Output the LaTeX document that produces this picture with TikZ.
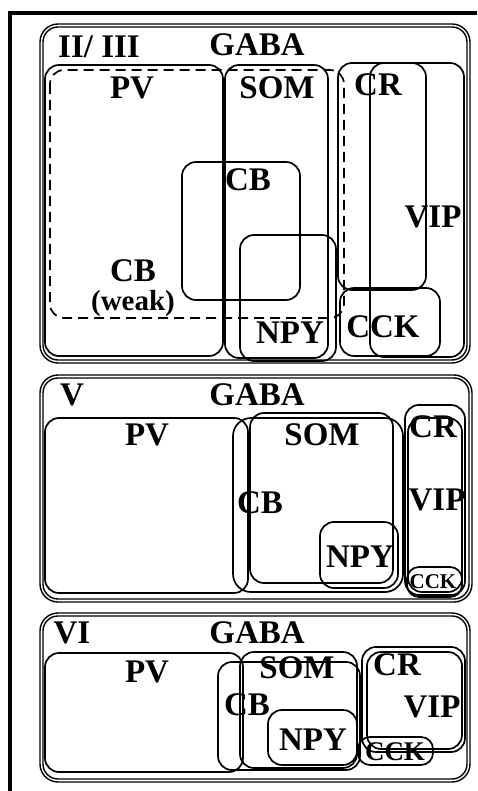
\documentclass[tikz,border=0pt]{standalone}
\usepackage{fontspec}
\setmainfont{Liberation Serif}
\begin{document}
\begin{tikzpicture}[x=1pt,y=-1pt,
  box/.style={draw=black,line width=1.7pt,rounded corners=14pt},
  panel/.style={draw=black,line width=1.4pt,rounded corners=18pt},
  weak/.style={draw=black,line width=1.7pt,rounded corners=14pt,dash pattern=on 10pt off 6pt},
  lbl/.style={inner sep=0pt,font=\fontsize{33}{33}\selectfont\bfseries},
  slbl/.style={inner sep=0pt,font=\fontsize{27}{27}\selectfont\bfseries},
  tlbl/.style={inner sep=0pt,font=\fontsize{21}{21}\selectfont\bfseries}]
\useasboundingbox (0,0) rectangle (477,791);
\fill[white] (0,0) rectangle (477,791);
% outer frame
\draw[line width=4pt] (9.5,791) -- (9.5,13) -- (477,13);

% ---------- Panel II/III ----------
\draw[panel] (40,24) rectangle (470,363);
\draw[panel,rounded corners=15pt] (43,27) rectangle (467,360);
\draw[box] (45,65) rectangle (223,356);
\draw[box] (225,65) rectangle (328,358);
\draw[weak] (50,70) rectangle (344,318);
\draw[box] (182,162) rectangle (300,300);
\draw[box] (240,235) rectangle (336,361);
\draw[box] (338,63) rectangle (426,290);
\draw[box] (370,63) rectangle (464,357);
\draw[box] (340,288) rectangle (440,356);
\node[lbl] (l1) at (99,47) {II/ III};
\node[lbl] (g1) at (257,45) {GABA};
\node[lbl] (pv1) at (132,88) {PV};
\node[lbl] (som1) at (277,88) {SOM};
\node[lbl] (cb1) at (248,180) {CB};
\node[lbl] (cbw1) at (133,271) {CB};
\node[lbl,font=\fontsize{29}{29}\selectfont\bfseries] (weak1) at (133,304) {(weak)};
\node[lbl] (npy1) at (290,333) {NPY};
\node[lbl] (cr1) at (378,85) {CR};
\node[lbl] (vip1) at (433,217) {VIP};
\node[lbl] (cck1) at (383,327) {CCK};

% ---------- Panel V ----------
\draw[panel] (40,375) rectangle (472,602);
\draw[panel,rounded corners=15pt] (43,378) rectangle (469,599);
\draw[box] (45,418) rectangle (248,593);
\draw[box,rounded corners=18pt] (233,418) rectangle (403,592);
\draw[box] (250,413) rectangle (393,583);
\draw[box] (320,522) rectangle (398,588);
\draw[box] (405,405) rectangle (465,595);
\draw[box] (408,418) rectangle (462,592);
\draw[box,rounded corners=12pt] (407,567) rectangle (462,597);
\node[lbl] (l2) at (72,395) {V};
\node[lbl] (g2) at (257,395) {GABA};
\node[lbl] (pv2) at (147,435) {PV};
\node[lbl] (som2) at (322,435) {SOM};
\node[lbl] (cb2) at (260,503) {CB};
\node[lbl] (npy2) at (360,557) {NPY};
\node[lbl] (cr2) at (433,427) {CR};
\node[lbl] (vip2) at (437,500) {VIP};
\node[tlbl] (cck2) at (433,582) {CCK};

% ---------- Panel VI ----------
\draw[panel] (40,613) rectangle (470,782);
\draw[panel,rounded corners=15pt] (43,616) rectangle (467,779);
\draw[box] (45,653) rectangle (243,772);
\draw[box] (218,662) rectangle (360,770);
\draw[box] (240,652) rectangle (357,768);
\draw[box] (268,710) rectangle (357,765);
\draw[box] (362,647) rectangle (465,752);
\draw[box] (367,652) rectangle (462,749);
\draw[box,rounded corners=12pt] (358,737) rectangle (433,765);
\node[lbl] (l3) at (72,633) {VI};
\node[lbl] (g3) at (257,633) {GABA};
\node[lbl] (pv3) at (147,672) {PV};
\node[lbl] (som3) at (297,668) {SOM};
\node[lbl] (cb3) at (247,705) {CB};
\node[lbl] (npy3) at (313,740) {NPY};
\node[lbl] (cr3) at (397,665) {CR};
\node[lbl] (vip3) at (432,707) {VIP};
\node[slbl] (cck3) at (395,752) {CCK};
\end{tikzpicture}
\end{document}
